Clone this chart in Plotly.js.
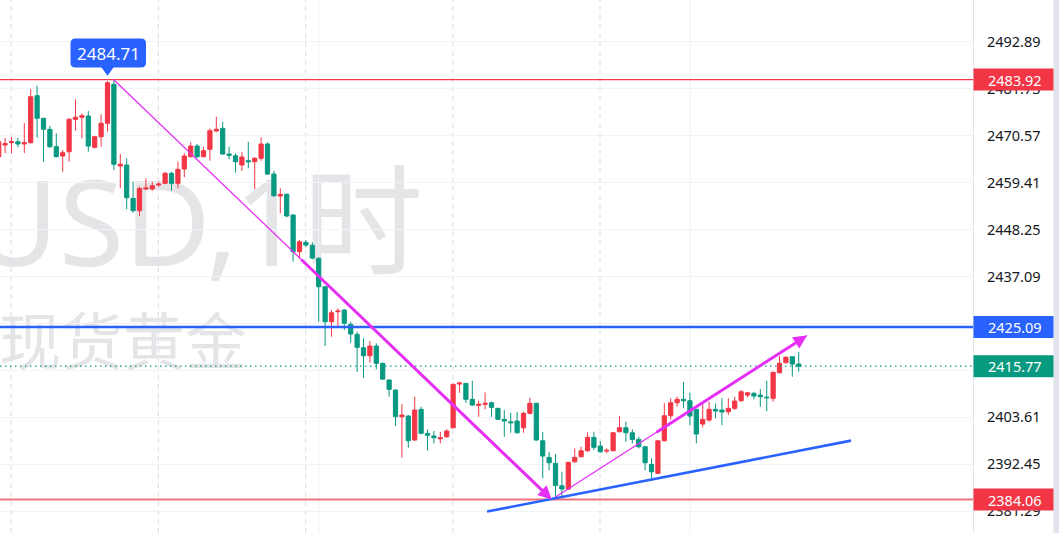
<!DOCTYPE html>
<html><head><meta charset="utf-8">
<script src="https://cdn.plot.ly/plotly-3.0.1.min.js"></script>
<style>html,body{margin:0;padding:0;background:#fff;overflow:hidden}#chart{width:1059px;height:533px}</style>
</head><body><div id="chart"></div>
<script>
// ---- data (hourly candles) ----
const bars = Array.from({length:126},(_,i)=>i);
const openP = [2465.57,2468.35,2468.94,2469.13,2468.59,2468.90,2480.07,2474.70,2472.08,2467.95,
2465.73,2466.76,2474.46,2474.94,2475.25,2467.80,2470.32,2473.51,2482.78,2463.36,
2463.59,2455.67,2452.73,2457.89,2457.89,2458.84,2459.24,2461.62,2459.24,2462.64,
2465.57,2468.11,2465.57,2467.33,2471.68,2472.32,2466.21,2465.80,2463.59,2464.62,
2464.38,2465.19,2468.59,2461.45,2456.22,2456.63,2451.70,2442.98,2445.21,2444.50,
2441.41,2434.65,2426.33,2428.71,2429.11,2425.71,2423.33,2420.15,2418.24,2420.55,
2416.44,2412.47,2410.09,2403.74,2403.91,2398.20,2405.50,2399.79,2399.15,2398.51,
2398.98,2401.12,2411.51,2411.68,2407.88,2406.45,2406.69,2407.07,2405.74,2403.12,
2402.55,2402.72,2401.12,2404.55,2406.93,2398.03,2394.08,2392.66,2387.33,2386.55,
2393.04,2394.23,2395.65,2398.84,2396.77,2395.58,2395.65,2400.17,2401.12,2399.93,
2398.36,2396.61,2392.42,2390.28,2398.03,2403.98,2407.07,2407.88,2407.54,2405.50,
2402.00,2402.95,2405.50,2405.33,2404.93,2405.74,2407.54,2408.90,2409.30,2408.90,
2408.42,2408.11,2414.20,2416.58,2418.01,2416.27];
const highP = [2470.01,2470.01,2470.25,2470.08,2473.58,2481.67,2482.45,2474.77,2472.87,2471.13,
2467.16,2474.70,2479.22,2475.89,2476.43,2470.49,2475.65,2483.57,2483.90,2466.21,
2465.19,2459.62,2458.43,2460.43,2459.62,2459.62,2462.00,2462.00,2464.38,2466.38,
2468.99,2468.59,2467.95,2472.32,2475.08,2473.89,2467.95,2466.38,2466.68,2469.13,
2465.42,2470.18,2468.99,2462.17,2458.05,2456.86,2451.94,2445.76,2445.76,2445.21,
2441.64,2434.82,2429.11,2429.52,2429.35,2426.33,2423.95,2422.38,2421.74,2421.19,
2416.58,2412.63,2410.25,2406.76,2404.14,2408.50,2406.12,2400.74,2400.34,2400.17,
2400.81,2411.68,2412.06,2411.75,2412.30,2407.54,2409.54,2407.31,2405.88,2405.33,
2404.69,2404.93,2404.93,2408.26,2407.07,2400.10,2395.42,2394.87,2390.66,2393.04,
2396.22,2396.61,2400.03,2400.17,2397.96,2396.22,2400.17,2403.91,2402.55,2400.74,
2398.98,2396.77,2393.85,2398.20,2407.00,2408.11,2408.50,2412.06,2409.45,2405.57,
2407.31,2407.31,2406.93,2408.11,2408.11,2408.50,2410.09,2409.68,2409.68,2410.33,
2412.30,2414.44,2418.17,2418.17,2418.01,2419.20];
const lowP = [2465.26,2466.45,2466.45,2467.80,2466.45,2468.71,2470.08,2464.38,2467.64,2465.42,
2462.00,2464.38,2471.75,2469.94,2466.76,2467.56,2467.95,2471.51,2462.40,2458.05,
2453.06,2452.25,2451.47,2457.65,2457.48,2458.43,2459.07,2457.48,2458.05,2460.67,
2465.42,2465.19,2465.42,2464.62,2471.51,2465.97,2464.95,2461.76,2462.17,2462.81,
2457.81,2464.62,2461.21,2456.05,2452.11,2451.16,2440.60,2441.41,2444.02,2441.17,
2426.33,2420.55,2422.76,2425.14,2424.36,2421.34,2414.44,2413.01,2416.58,2415.01,
2412.47,2408.50,2401.53,2393.99,2396.37,2398.03,2399.55,2395.65,2397.41,2397.41,
2398.75,2400.98,2409.45,2407.07,2406.28,2403.74,2405.50,2403.74,2402.95,2398.98,
2399.93,2399.79,2399.93,2404.31,2398.03,2389.09,2391.06,2384.72,2384.52,2386.31,
2392.80,2394.08,2395.42,2395.84,2395.18,2395.04,2395.58,2400.10,2397.79,2397.41,
2396.22,2391.06,2388.45,2390.11,2397.84,2403.12,2406.12,2405.74,2401.76,2397.41,
2401.22,2402.55,2403.36,2401.76,2404.14,2405.35,2407.31,2408.35,2407.88,2406.12,
2405.09,2407.31,2414.06,2416.44,2413.25,2414.44];
const closeP = [2469.13,2468.71,2469.18,2468.59,2468.90,2479.83,2474.70,2472.08,2467.95,2465.57,
2466.52,2474.46,2474.94,2475.32,2468.11,2470.32,2473.51,2483.16,2463.76,2463.76,
2455.82,2452.73,2458.05,2458.12,2458.67,2459.07,2461.62,2459.24,2462.57,2465.73,
2468.11,2465.57,2466.99,2471.75,2472.08,2466.21,2465.90,2464.38,2465.50,2464.38,
2465.19,2468.59,2461.45,2456.29,2456.63,2451.47,2442.98,2445.35,2444.57,2441.48,
2434.65,2426.33,2428.47,2428.87,2425.95,2423.40,2420.24,2418.24,2420.55,2416.44,
2412.70,2410.25,2403.74,2404.14,2398.03,2405.33,2399.79,2399.32,2398.75,2398.75,
2400.34,2411.44,2411.75,2407.88,2406.52,2406.69,2406.93,2405.97,2403.12,2402.72,
2402.31,2399.93,2404.55,2406.93,2398.20,2394.39,2392.80,2387.38,2386.55,2392.89,
2394.08,2395.65,2398.84,2396.46,2395.42,2395.75,2399.93,2401.12,2399.93,2398.36,
2396.61,2392.80,2390.66,2398.03,2403.98,2407.07,2407.88,2407.54,2403.91,2399.62,
2403.12,2405.50,2405.09,2404.86,2405.74,2407.47,2409.68,2409.45,2408.66,2408.50,
2408.26,2414.30,2416.44,2417.86,2416.27,2415.77];

const priceTicks = [2381.29,2392.45,2403.61,2414.77,2425.93,2437.09,2448.25,2459.41,2470.57,2481.73,2492.89];
const levels = [
  {value:2483.92, color:'#f23645'},
  {value:2425.09, color:'#2962ff'},
  {value:2415.77, color:'#089981'},
  {value:2384.06, color:'#f23645'}
];
const peakIndex = 17, peakPrice = 2484.71;
const sessionBreaks = [1.95, 24.95, 47.95, 70.95, 93.95];
const timeGrid = [50, 108];
// drawings: [x (bar index), price]
const downLine = [[17.94, 2483.92], [86.4, 2384.06]];
const downArrowStart = [47.08, 2441.41];
const upLine = [[86.4, 2384.06], [126.3, 2423.05]];
const upArrowStart = [102.55, 2399.84];
const supportLine = [[76.3, 2381.19], [133.17, 2398.06]];
const symbolName = 'XAUUSD', intervalName = '1时', symbolDesc = '现货黄金';

// ---- geometry ----
const W = 1059, H = 533, PW = 973, PH = 533;
const X0 = 0.203, X1 = 152.23, Y0 = 2376.10, Y1 = 2502.83;
const pxX = k => (k - X0) / (X1 - X0) * PW;
const pxY = p => (Y1 - p) / (Y1 - Y0) * PH;
const fx = x => x / PW;
const fy = y => 1 - y / PH;
const FONT = 'Noto Sans, Roboto, sans-serif';
const MAG = '#e62ef5';
const WM = '#e5e5e8';

const shapes = [];
// watermark (behind everything)
function wmLabel(text, x0, x1, yTop, yBot, pos, size, family) {
  shapes.push({type:'rect', xref:'paper', yref:'paper', x0:fx(x0), x1:fx(x1), y0:fy(yBot), y1:fy(yTop),
    line:{width:0}, fillcolor:'rgba(0,0,0,0)', layer:'below',
    label:{text:text, textposition:pos, padding:0, font:{family:family, size:size, color:WM}}});
}
wmLabel(symbolName + ',', -700, 241, 165, 290, 'middle right', 119, 'Liberation Sans Narrow, Noto Sans');
wmLabel(intervalName, 200, 426, 165, 290, 'middle right', 120, 'Noto Sans, Noto Sans CJK SC');
wmLabel(symbolDesc, -4, 400, 308, 388, 'middle left', 62, 'Noto Sans CJK SC');
// session breaks & time grid
sessionBreaks.forEach(k => shapes.push({type:'line', xref:'x', yref:'paper', x0:k, x1:k, y0:0, y1:1,
  line:{color:'#dfe2ea', width:1.2, dash:'5px,4px'}, layer:'below'}));
timeGrid.forEach(k => shapes.push({type:'line', xref:'x', yref:'paper', x0:k, x1:k, y0:0, y1:1,
  line:{color:'#eef1f7', width:1}, layer:'below'}));
// horizontal levels
shapes.push({type:'line', xref:'paper', yref:'y', x0:0, x1:1, y0:levels[0].value, y1:levels[0].value, line:{color:'#f23645', width:1.3}});
shapes.push({type:'line', xref:'paper', yref:'y', x0:0, x1:1, y0:levels[1].value, y1:levels[1].value, line:{color:'#2962ff', width:2.6}});
shapes.push({type:'line', xref:'paper', yref:'y', x0:0, x1:1, y0:levels[2].value, y1:levels[2].value, line:{color:'#089981', width:1.2, dash:'1.5px,3.5px'}});
shapes.push({type:'line', xref:'paper', yref:'y', x0:0, x1:1, y0:levels[3].value, y1:levels[3].value, line:{color:'#f2737d', width:2}});
// trend lines
shapes.push({type:'line', xref:'x', yref:'y', x0:downLine[0][0], y0:downLine[0][1], x1:downLine[1][0], y1:downLine[1][1], line:{color:MAG, width:1.3}});
shapes.push({type:'line', xref:'x', yref:'y', x0:upLine[0][0], y0:upLine[0][1], x1:upLine[1][0], y1:upLine[1][1], line:{color:MAG, width:1.3}});
shapes.push({type:'line', xref:'x', yref:'y', x0:supportLine[0][0], y0:supportLine[0][1], x1:supportLine[1][0], y1:supportLine[1][1], line:{color:'#2962ff', width:2.6}});
// right strip
shapes.push({type:'rect', xref:'paper', yref:'paper', x0:fx(1053.5), x1:fx(1062), y0:0, y1:1, line:{width:0}, fillcolor:'#e1e4ec'});
// price badges
const annotations = [];
levels.forEach(l => {
  shapes.push({type:'rect', xref:'paper', yref:'y', x0:fx(973.5), x1:fx(1053.5), y0:l.value-2.62, y1:l.value+2.62,
    line:{width:0}, fillcolor:l.color});
  annotations.push({xref:'paper', yref:'y', x:fx(985.5), y:l.value, xanchor:'left', yanchor:'middle',
    text:l.value.toFixed(2), showarrow:false, font:{family:FONT, size:14.5, color:'#ffffff'}});
});
// peak bubble
const tx = pxX(peakIndex), ty = pxY(peakPrice);
const bl = tx - 37, br = tx + 38.5, bt = ty - 37.7, bb = ty - 8.6, r = 5;
const P = (x,y) => fx(x).toFixed(5) + ',' + fy(y).toFixed(5);
const bubblePath = 'M' + P(bl+r,bt) + ' L' + P(br-r,bt) + ' Q' + P(br,bt) + ' ' + P(br,bt+r) +
  ' L' + P(br,bb-r) + ' Q' + P(br,bb) + ' ' + P(br-r,bb) + ' L' + P(tx+6,bb) + ' L' + P(tx,ty-0.5) +
  ' L' + P(tx-6,bb) + ' L' + P(bl+r,bb) + ' Q' + P(bl,bb) + ' ' + P(bl,bb-r) + ' L' + P(bl,bt+r) +
  ' Q' + P(bl,bt) + ' ' + P(bl+r,bt) + ' Z';
shapes.push({type:'path', xref:'paper', yref:'paper', path:bubblePath, fillcolor:'#2962ff', line:{width:0}});
annotations.push({xref:'paper', yref:'paper', x:fx((bl+br)/2), y:fy((bt+bb)/2), xanchor:'center', yanchor:'middle',
  text:peakPrice.toFixed(2), showarrow:false, font:{family:FONT, size:17, color:'#ffffff'}});
// arrows
annotations.push({xref:'x', yref:'y', axref:'x', ayref:'y', x:downLine[1][0], y:downLine[1][1],
  ax:downArrowStart[0], ay:downArrowStart[1], text:'', showarrow:true, arrowhead:2, arrowsize:0.9, arrowwidth:3, arrowcolor:MAG, standoff:0});
annotations.push({xref:'x', yref:'y', axref:'x', ayref:'y', x:upLine[1][0], y:upLine[1][1],
  ax:upArrowStart[0], ay:upArrowStart[1], text:'', showarrow:true, arrowhead:2, arrowsize:0.9, arrowwidth:3, arrowcolor:MAG, standoff:0});

const trace = {
  type:'candlestick', x:bars, open:openP, high:highP, low:lowP, close:closeP,
  increasing:{line:{color:'#f23645', width:1}, fillcolor:'#f23645'},
  decreasing:{line:{color:'#089981', width:1}, fillcolor:'#089981'},
  whiskerwidth:0, hoverinfo:'skip'
};

const layout = {
  width:W, height:H, margin:{l:0, r:W-PW, t:0, b:0},
  paper_bgcolor:'#ffffff', plot_bgcolor:'#ffffff',
  showlegend:false, hovermode:false, dragmode:false,
  boxgap:0.34, boxgroupgap:0,
  xaxis:{range:[X0,X1], showgrid:false, zeroline:false, showticklabels:false, ticks:'', showline:false,
    rangeslider:{visible:false}, fixedrange:true},
  yaxis:{range:[Y0,Y1], side:'right', tickvals:priceTicks, ticktext:priceTicks.map(v=>v.toFixed(2)),
    showgrid:true, gridcolor:'#f0f3fa', gridwidth:1, zeroline:false, ticks:'', showline:true, linecolor:'#e0e3eb', linewidth:1,
    tickfont:{family:FONT, size:14.5, color:'#131722'}, ticklabelstandoff:10, fixedrange:true},
  shapes:shapes, annotations:annotations
};
Plotly.newPlot('chart', [trace], layout, {staticPlot:true, displayModeBar:false});
</script></body></html>
